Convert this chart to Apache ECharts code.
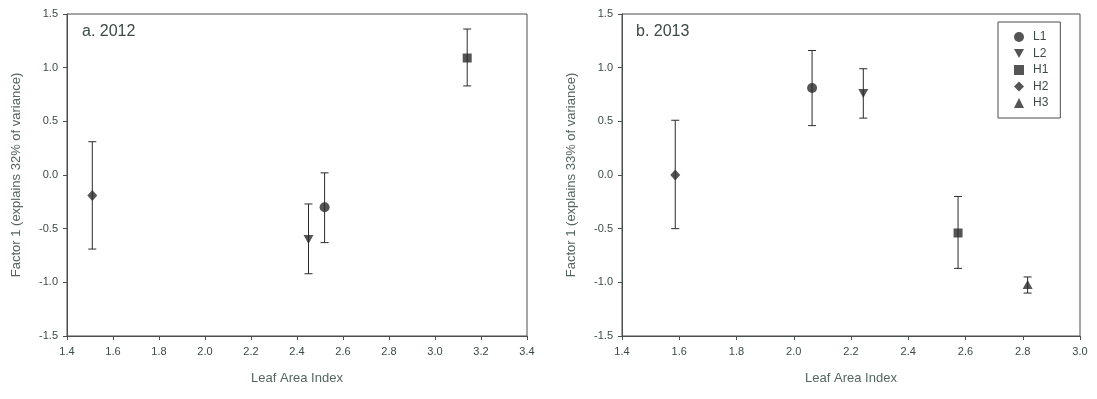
<!DOCTYPE html>
<html>
<head>
<meta charset="utf-8">
<script src="https://cdn.jsdelivr.net/npm/echarts@6/dist/echarts.min.js"></script>
<style>html,body{margin:0;padding:0;background:#fff}#c{width:1097px;height:399px}</style>
</head>
<body>
<div id="c"></div>
<script>
const groups = ['L1', 'L2', 'H1', 'H2', 'H3'];
const symbols = ['circle', 'path://M0,0 L10,0 L5,9 Z', 'rect', 'diamond', 'triangle'];

// 2012 panel (H3 absent)
const lai2012   = [2.52, 2.45, 3.14, 1.51, null];
const mean2012  = [-0.30, -0.60, 1.09, -0.19, null];
const upper2012 = [0.02, -0.27, 1.36, 0.31, null];
const lower2012 = [-0.63, -0.92, 0.83, -0.69, null];

// 2013 panel
const lai2013   = [2.064, 2.243, 2.574, 1.586, 2.817];
const mean2013  = [0.81, 0.76, -0.54, 0.00, -1.02];
const upper2013 = [1.16, 0.99, -0.20, 0.51, -0.95];
const lower2013 = [0.46, 0.53, -0.87, -0.50, -1.10];

const xTicks2012 = ['1.4','1.6','1.8','2.0','2.2','2.4','2.6','2.8','3.0','3.2','3.4'];
const xTicks2013 = ['1.4','1.6','1.8','2.0','2.2','2.4','2.6','2.8','3.0'];
const yTicks = ['-1.5','-1.0','-0.5','0.0','0.5','1.0','1.5'];

const panelTitles = ['a. 2012', 'b. 2013'];
const yNames = ['Factor 1 (explains 32% of variance)', 'Factor 1 (explains 33% of variance)'];
const xName = 'Leaf Area Index';

const markColor = '#2b2b2b';
const axisColor = '#4a4f4c';
const labelColor = '#3d4a46';
const nameColor = '#56665f';
const font = '"Liberation Sans", Arial, sans-serif';

function xAxis(idx, ticks) {
  return {
    type: 'value', gridIndex: idx,
    min: parseFloat(ticks[0]), max: parseFloat(ticks[ticks.length - 1]), interval: 0.2,
    name: xName, nameLocation: 'middle', nameGap: 36,
    nameTextStyle: { color: nameColor, fontSize: 13, fontFamily: font },
    axisLine: { show: true, onZero: false, lineStyle: { color: axisColor, width: 1 } },
    axisTick: { show: true, inside: false, length: 4, lineStyle: { color: axisColor } },
    axisLabel: { color: labelColor, fontSize: 11, fontFamily: font, margin: 10,
      formatter: v => v.toFixed(1), showMinLabel: true, showMaxLabel: true },
    splitLine: { show: false }
  };
}
function yAxis(idx) {
  return {
    type: 'value', gridIndex: idx,
    min: parseFloat(yTicks[0]), max: parseFloat(yTicks[yTicks.length - 1]), interval: 0.5,
    name: yNames[idx], nameLocation: 'middle', nameGap: 44, nameRotate: 90,
    nameTextStyle: { color: nameColor, fontSize: 13, fontFamily: font },
    axisLine: { show: true, onZero: false, lineStyle: { color: axisColor, width: 1 } },
    axisTick: { show: true, inside: false, length: 4, lineStyle: { color: axisColor } },
    axisLabel: { color: labelColor, fontSize: 11, fontFamily: font, margin: 9,
      formatter: v => v.toFixed(1), showMinLabel: true, showMaxLabel: true },
    splitLine: { show: false }
  };
}

function errorSeries(idx, xs, lo, hi) {
  const data = [];
  xs.forEach((x, i) => { if (x != null) data.push([x, lo[i], hi[i]]); });
  return {
    type: 'custom', xAxisIndex: idx, yAxisIndex: idx, z: 2, silent: true,
    renderItem: function (params, api) {
      const x = api.value(0);
      const p1 = api.coord([x, api.value(1)]);
      const p2 = api.coord([x, api.value(2)]);
      const w = 4;
      const st = { stroke: markColor, lineWidth: 1 };
      return { type: 'group', children: [
        { type: 'line', shape: { x1: p1[0], y1: p1[1], x2: p2[0], y2: p2[1] }, style: st },
        { type: 'line', shape: { x1: p1[0] - w, y1: p1[1], x2: p1[0] + w, y2: p1[1] }, style: st },
        { type: 'line', shape: { x1: p2[0] - w, y1: p2[1], x2: p2[0] + w, y2: p2[1] }, style: st }
      ]};
    },
    encode: { x: 0, y: [1, 2] },
    data: data
  };
}

const sizes = [10, [10, 9], 9, [10, 11], [10, 9]];
const series = [];
[[lai2012, mean2012, upper2012, lower2012], [lai2013, mean2013, upper2013, lower2013]].forEach((d, idx) => {
  series.push(errorSeries(idx, d[0], d[3], d[2]));
  groups.forEach((g, i) => {
    if (d[0][i] == null) return;
    series.push({
      type: 'scatter', name: g, xAxisIndex: idx, yAxisIndex: idx, z: 5,
      symbol: symbols[i], symbolSize: sizes[i],
      itemStyle: { color: markColor },
      data: [[d[0][i], d[1][i]]]
    });
  });
});

const chart = echarts.init(document.getElementById('c'), null, { renderer: 'canvas' });
chart.setOption({
  animation: false,
  backgroundColor: '#ffffff',
  title: [
    { text: panelTitles[0], left: 77, top: 19, textStyle: { color: labelColor, fontSize: 16, fontWeight: 'normal', fontFamily: font } },
    { text: panelTitles[1], left: 631, top: 19, textStyle: { color: labelColor, fontSize: 16, fontWeight: 'normal', fontFamily: font } }
  ],
  grid: [
    { left: 67, right: 570, top: 14, bottom: 63, show: true, borderColor: axisColor, borderWidth: 1, backgroundColor: 'transparent' },
    { left: 622, right: 17, top: 14, bottom: 63, show: true, borderColor: axisColor, borderWidth: 1, backgroundColor: 'transparent' }
  ],
  xAxis: [xAxis(0, xTicks2012), xAxis(1, xTicks2013)],
  yAxis: [yAxis(0), yAxis(1)],
  legend: {
    orient: 'vertical', left: 998, top: 22,
    data: groups.map((g, i) => ({ name: g, icon: symbols[i], itemStyle: { color: markColor } })),
    itemWidth: 10, itemHeight: 10, itemGap: 4.5,
    padding: [9, 12, 9, 16],
    borderColor: axisColor, borderWidth: 1,
    textStyle: { color: labelColor, fontSize: 12, fontFamily: font, padding: [0, 0, 0, 4] },
    selectedMode: false
  },
  series: series
});
</script>
</body>
</html>
